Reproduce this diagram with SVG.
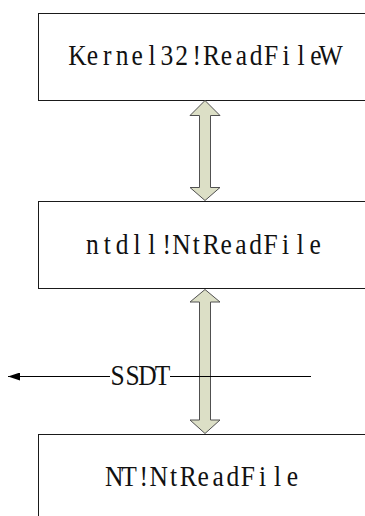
<svg xmlns="http://www.w3.org/2000/svg" width="365" height="516" viewBox="0 0 365 516">
<style>
.box{fill:#fff;stroke:#1a1a1a;stroke-width:1}
.lbl{font-family:"Liberation Serif","DejaVu Serif",serif;font-size:30px;fill:#111;text-anchor:middle}
.dbl{fill:#dcdfc6;stroke:#505050;stroke-width:1}
.line{stroke:#000;stroke-width:1;fill:none}
</style>
<defs>
<marker id="ah" markerWidth="12" markerHeight="8" refX="12" refY="4" orient="auto" markerUnits="userSpaceOnUse">
<path d="M0,0 L12,4 L0,8 Z" fill="#000"/>
</marker>
</defs>
<g id="kernel32">
<rect class="box" x="38.5" y="13.5" width="340" height="87"/>
<text class="lbl" transform="scale(0.85,1)" y="65" x="91.12 108.65 126.18 143.71 161.24 178.77 196.3 213.83 231.36 248.89 266.42 283.95 301.48 319.01 336.54 354.07 371.6 389.13">Kernel32!ReadFileW</text>
</g>
<g id="ntdll">
<rect class="box" x="38.5" y="201.5" width="340" height="87"/>
<text class="lbl" transform="scale(0.85,1)" y="254" x="108.71 126.18 143.65 161.12 178.59 196.06 213.53 231 248.47 265.94 283.41 300.88 318.35 335.82 353.29 370.76">ntdll!NtReadFile</text>
</g>
<g id="nt">
<rect class="box" x="38.5" y="434.5" width="340" height="100"/>
<text class="lbl" transform="scale(0.85,1)" y="486" x="134.24 151.71 169.18 186.65 204.12 221.59 239.06 256.53 274 291.47 308.94 326.41 343.88">NT!NtReadFile</text>
</g>
<g id="connectors">
<path class="dbl" d="M205,100.5 L220,115.5 L210.5,115.5 L210.5,187.5 L220,187.5 L205,200.5 L190,187.5 L199.5,187.5 L199.5,115.5 L190,115.5 Z"/>
<path class="dbl" d="M205,289.5 L220,302 L210.5,302 L210.5,420 L220,420 L205,433.5 L190,420 L199.5,420 L199.5,302 L190,302 Z"/>
<line class="line" x1="110" y1="376.5" x2="8" y2="376.5" marker-end="url(#ah)"/>
<line class="line" x1="170" y1="376.5" x2="311" y2="376.5"/>
<text class="lbl" transform="scale(0.85,1)" y="385" x="138.24 155.89 173.54 191.19">SSDT</text>
</g>
</svg>
